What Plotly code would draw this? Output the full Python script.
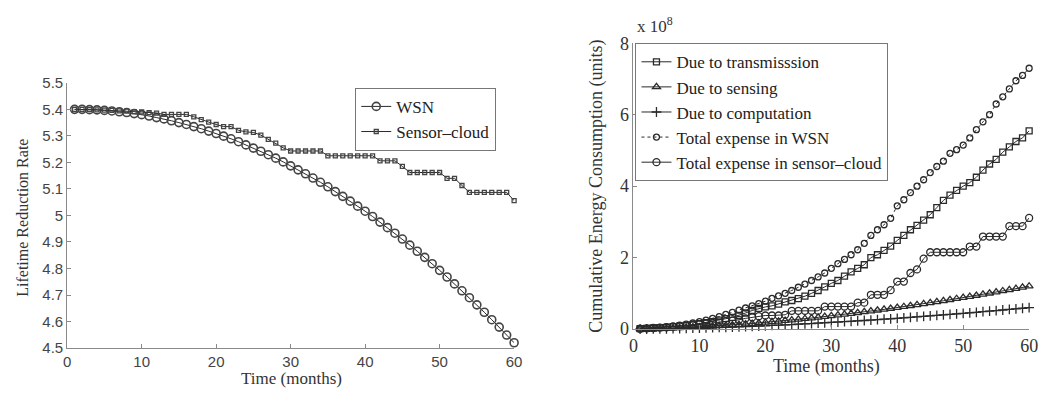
import plotly.graph_objects as go

# ---------------- data ----------------
months = list(range(1, 61))

# Left panel: lifetime reduction rate
wsn_rate = [5.400, 5.400, 5.399, 5.398, 5.396, 5.394, 5.391, 5.388, 5.384, 5.380,
            5.375, 5.369, 5.364, 5.357, 5.350, 5.343, 5.335, 5.327, 5.318, 5.309,
            5.299, 5.289, 5.278, 5.266, 5.254, 5.242, 5.229, 5.216, 5.202, 5.187,
            5.172, 5.157, 5.141, 5.125, 5.108, 5.090, 5.072, 5.054, 5.035, 5.016,
            4.996, 4.975, 4.954, 4.933, 4.911, 4.888, 4.865, 4.842, 4.818, 4.793,
            4.768, 4.742, 4.716, 4.690, 4.663, 4.635, 4.607, 4.579, 4.549, 4.520]
cloud_rate = [5.400, 5.400, 5.399, 5.398, 5.397, 5.396, 5.394, 5.393, 5.391, 5.390,
              5.388, 5.386, 5.381, 5.381, 5.381, 5.381, 5.372, 5.361, 5.352, 5.343,
              5.335, 5.335, 5.321, 5.315, 5.313, 5.303, 5.287, 5.273, 5.255, 5.243,
              5.243, 5.243, 5.243, 5.243, 5.225, 5.225, 5.225, 5.225, 5.225, 5.225,
              5.225, 5.206, 5.206, 5.206, 5.185, 5.162, 5.162, 5.162, 5.162, 5.162,
              5.140, 5.140, 5.113, 5.087, 5.087, 5.087, 5.087, 5.087, 5.087, 5.056]

# Right panel: cumulative energy consumption (in units of 1e8)
transmission = [0.01, 0.02, 0.03, 0.04, 0.05, 0.07, 0.08, 0.10, 0.12, 0.15,
                0.18, 0.21, 0.25, 0.29, 0.33, 0.38, 0.45, 0.52, 0.58, 0.62,
                0.65, 0.70, 0.76, 0.80, 0.85, 0.92, 1.00, 1.08, 1.18, 1.28,
                1.36, 1.48, 1.60, 1.70, 1.80, 2.00, 2.08, 2.20, 2.32, 2.48,
                2.62, 2.78, 2.90, 3.05, 3.20, 3.40, 3.60, 3.75, 3.88, 4.00,
                4.10, 4.25, 4.45, 4.62, 4.75, 4.95, 5.10, 5.25, 5.35, 5.55]
sensing = [0.001, 0.004, 0.008, 0.012, 0.018, 0.024, 0.031, 0.039, 0.048, 0.057,
           0.067, 0.077, 0.089, 0.101, 0.114, 0.127, 0.140, 0.155, 0.170, 0.185,
           0.201, 0.218, 0.235, 0.253, 0.271, 0.290, 0.309, 0.329, 0.349, 0.369,
           0.390, 0.412, 0.434, 0.457, 0.480, 0.503, 0.527, 0.551, 0.576, 0.600,
           0.626, 0.653, 0.680, 0.708, 0.736, 0.764, 0.792, 0.821, 0.850, 0.880,
           0.910, 0.940, 0.971, 1.003, 1.035, 1.067, 1.099, 1.132, 1.166, 1.200]
computation = [0.001, 0.002, 0.004, 0.006, 0.009, 0.012, 0.016, 0.020, 0.024, 0.029,
               0.034, 0.039, 0.045, 0.051, 0.057, 0.064, 0.070, 0.078, 0.085, 0.093,
               0.101, 0.109, 0.118, 0.127, 0.136, 0.145, 0.155, 0.165, 0.175, 0.185,
               0.195, 0.206, 0.217, 0.229, 0.240, 0.252, 0.264, 0.276, 0.288, 0.300,
               0.313, 0.327, 0.340, 0.354, 0.368, 0.382, 0.396, 0.411, 0.425, 0.440,
               0.455, 0.470, 0.486, 0.502, 0.518, 0.534, 0.550, 0.566, 0.583, 0.600]
total_wsn = [0.01, 0.02, 0.04, 0.05, 0.07, 0.09, 0.11, 0.14, 0.17, 0.21,
             0.25, 0.30, 0.35, 0.41, 0.47, 0.53, 0.59, 0.65, 0.71, 0.78,
             0.86, 0.93, 1.00, 1.08, 1.17, 1.26, 1.36, 1.46, 1.57, 1.70,
             1.83, 1.95, 2.08, 2.22, 2.40, 2.62, 2.78, 2.92, 3.10, 3.45,
             3.62, 3.82, 4.00, 4.18, 4.38, 4.55, 4.70, 4.92, 5.02, 5.15,
             5.35, 5.58, 5.80, 6.00, 6.30, 6.50, 6.72, 6.95, 7.10, 7.30]
total_cloud = [0.01, 0.02, 0.03, 0.04, 0.05, 0.06, 0.08, 0.09, 0.11, 0.13,
               0.15, 0.17, 0.19, 0.22, 0.24, 0.26, 0.30, 0.33, 0.36, 0.38,
               0.38, 0.38, 0.40, 0.51, 0.51, 0.51, 0.51, 0.51, 0.63, 0.63,
               0.63, 0.63, 0.63, 0.74, 0.74, 0.96, 0.96, 0.96, 1.09, 1.33,
               1.33, 1.57, 1.67, 1.97, 2.15, 2.15, 2.15, 2.15, 2.15, 2.15,
               2.31, 2.31, 2.59, 2.59, 2.59, 2.59, 2.88, 2.88, 2.88, 3.11]

left_yticks = [4.5, 4.6, 4.7, 4.8, 4.9, 5.0, 5.1, 5.2, 5.3, 5.4, 5.5]
left_yticklabels = ["4.5", "4.6", "4.7", "4.8", "4.9", "5", "5.1", "5.2", "5.3", "5.4", "5.5"]
xticks = [0, 10, 20, 30, 40, 50, 60]
right_yticks = [0, 2, 4, 6, 8]

# ---------------- figure ----------------
W, H = 1048, 397
INK = "#2a2a2a"
AX = "#8a8a8a"
SERIF = "Liberation Serif, Times New Roman, serif"
SANS = "Liberation Sans, Arial, sans-serif"

fig = go.Figure()

fig.add_trace(go.Scatter(x=months, y=wsn_rate, name="WSN", mode="lines+markers",
                         line=dict(color=INK, width=1),
                         marker=dict(symbol="circle-open", size=8, color="#444",
                                     line=dict(width=1.6)),
                         cliponaxis=False, xaxis="x", yaxis="y", legend="legend"))
fig.add_trace(go.Scatter(x=months, y=cloud_rate, name="Sensor\u2013cloud", mode="lines+markers",
                         line=dict(color=INK, width=1),
                         marker=dict(symbol="square-open", size=4, color="#444",
                                     line=dict(width=1.3)),
                         cliponaxis=False, xaxis="x", yaxis="y", legend="legend"))

right_series = [
    ("Due to transmisssion", transmission, "square-open", 6, "solid"),
    ("Due to sensing", sensing, "triangle-up-open", 7, "solid"),
    ("Due to computation", computation, "cross-thin-open", 7, "solid"),
    ("Total expense in WSN", total_wsn, "circle-open", 6, "dot"),
    ("Total expense in sensor\u2013cloud", total_cloud, "circle-open", 7, "solid"),
]
for name, vals, sym, sz, dash in right_series:
    fig.add_trace(go.Scatter(x=months, y=vals, name=name, mode="lines+markers",
                             line=dict(color=INK, width=1, dash=dash),
                             marker=dict(symbol=sym, size=sz, color=INK,
                                         line=dict(width=1.3, color=INK)),
                             cliponaxis=False, xaxis="x2", yaxis="y2", legend="legend2"))

axis_common = dict(showline=True, linecolor=AX, linewidth=1, ticks="inside",
                   ticklen=4, tickcolor=AX, showgrid=False, zeroline=False, mirror=False)

fig.update_layout(
    width=W, height=H, margin=dict(l=0, r=0, t=0, b=0),
    paper_bgcolor="white", plot_bgcolor="white",
    xaxis=dict(domain=[63 / W, 516 / W], range=[0, 60], tickvals=xticks,
               tickfont=dict(family=SANS, size=15, color="#444"), anchor="y", **axis_common),
    yaxis=dict(domain=[1 - 356 / H, 1 - 76.7 / H], range=[4.5, 5.5], tickvals=left_yticks,
               ticktext=left_yticklabels,
               tickfont=dict(family=SANS, size=15, color="#444"), anchor="x", **axis_common),
    xaxis2=dict(domain=[637 / W, 1038 / W], range=[0, 60], tickvals=xticks,
                tickfont=dict(family=SERIF, size=18, color="#333"), anchor="y2", **axis_common),
    yaxis2=dict(domain=[1 - 336 / H, 1 - 35 / H], range=[0, 8], tickvals=right_yticks,
                tickfont=dict(family=SERIF, size=18, color="#333"), anchor="x2", **axis_common),
    legend=dict(x=355 / W, y=1 - 82 / H, xanchor="left", yanchor="top",
                bgcolor="white", bordercolor="#777", borderwidth=1,
                font=dict(family=SERIF, size=17, color="#222"),
                tracegroupgap=0, itemwidth=30),
    legend2=dict(x=639 / W, y=1 - 35 / H, xanchor="left", yanchor="top",
                 bgcolor="white", bordercolor="#777", borderwidth=1,
                 font=dict(family=SERIF, size=17, color="#222"),
                 tracegroupgap=0, itemwidth=30),
    showlegend=True,
)

annos = [
    dict(text="Lifetime Reduction Rate", x=18 / W, y=1 - 219 / H, textangle=-90,
         font=dict(family=SERIF, size=16, color="#333")),
    dict(text="Time (months)", x=290 / W, y=1 - 388 / H,
         font=dict(family=SERIF, size=17, color="#333")),
    dict(text="Cumulative Energy Consumption (units)", x=600 / W, y=1 - 185 / H, textangle=-90,
         font=dict(family=SERIF, size=18, color="#333")),
    dict(text="Time (months)", x=833 / W, y=1 - 375 / H,
         font=dict(family=SERIF, size=18, color="#333")),
    dict(text="x 10<sup>8</sup>", x=639 / W, y=1 - 16 / H, xanchor="left",
         font=dict(family=SERIF, size=17, color="#333")),
]
for a in annos:
    a.update(xref="paper", yref="paper", showarrow=False)
    if "xanchor" not in a:
        a["xanchor"] = "center"
    a["yanchor"] = "middle"
    fig.add_annotation(**a)

fig.write_html("out.html")
